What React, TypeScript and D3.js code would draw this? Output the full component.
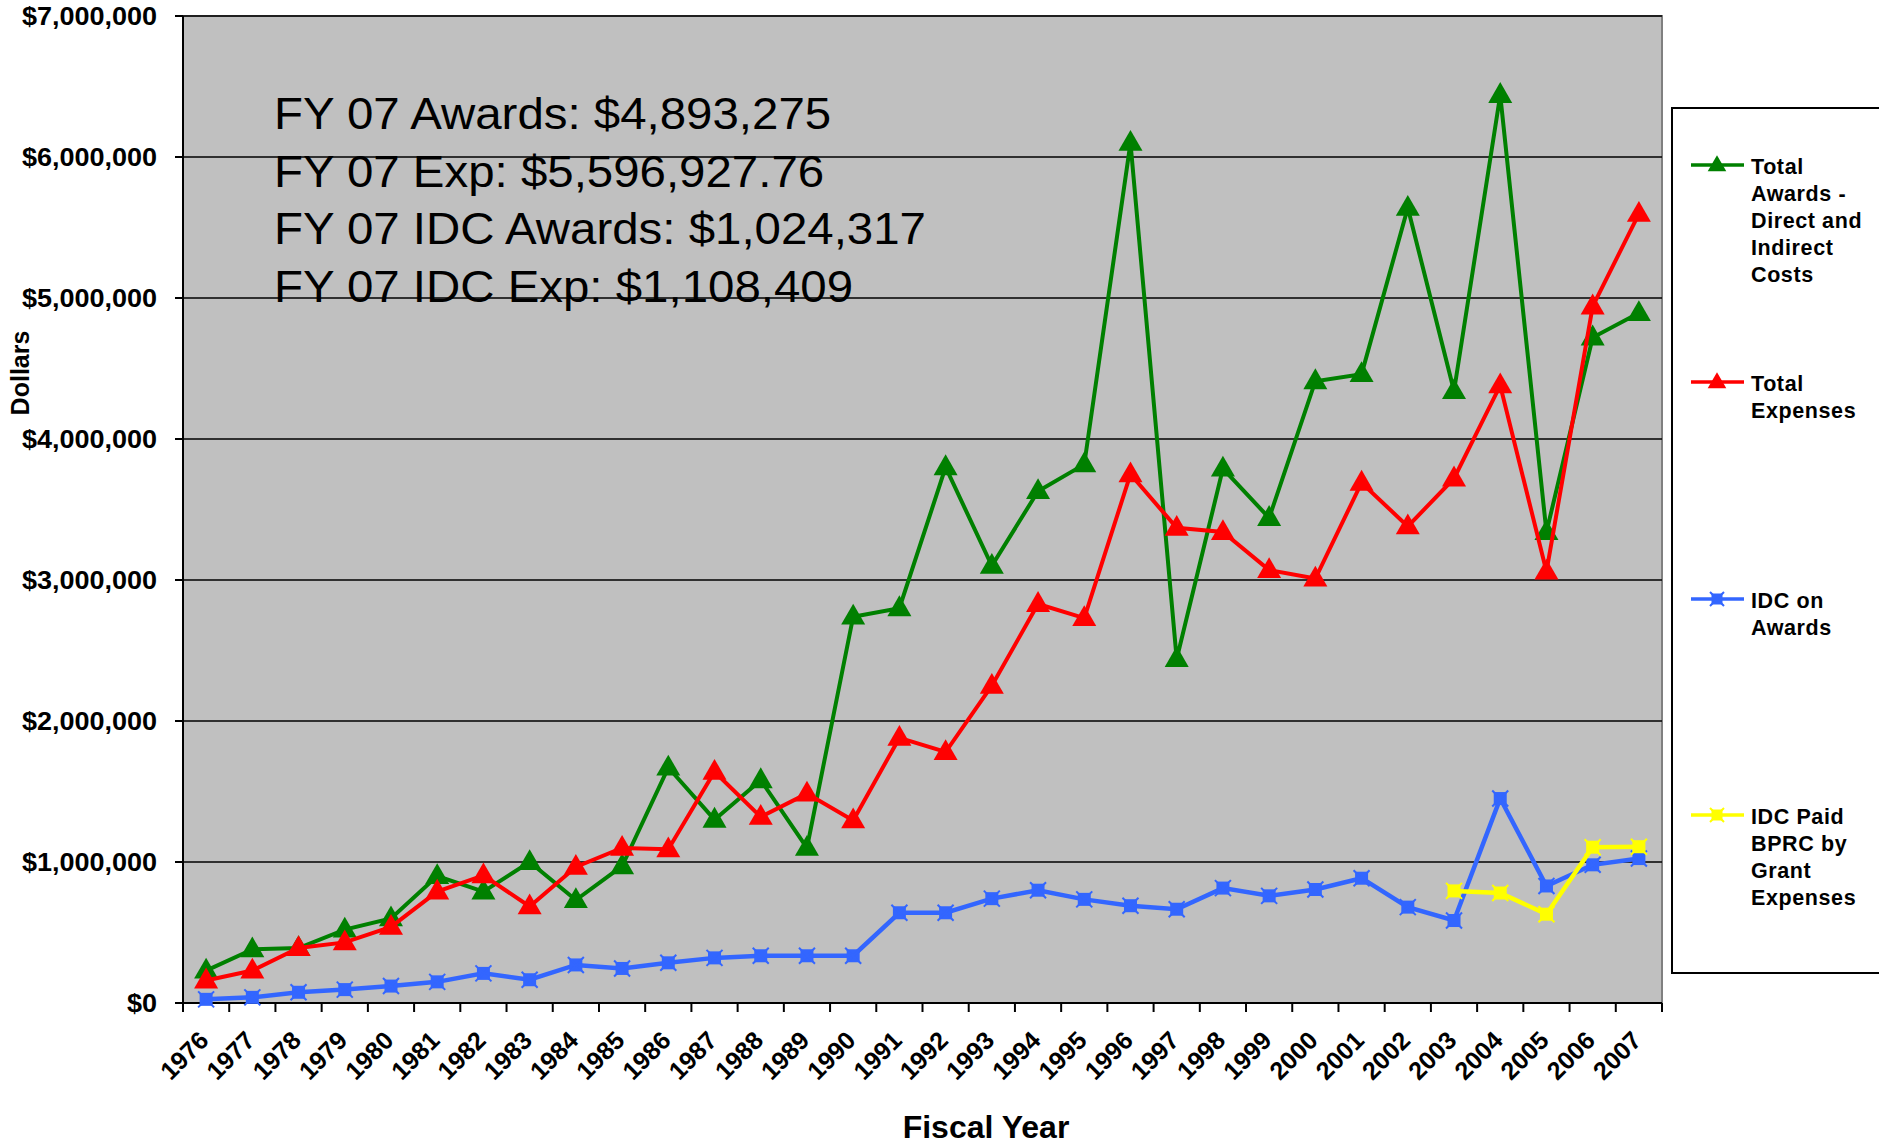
import React from "react";
import * as d3 from "d3";

const years = ["1976","1977","1978","1979","1980","1981","1982","1983","1984","1985","1986","1987","1988","1989","1990","1991","1992","1993","1994","1995","1996","1997","1998","1999","2000","2001","2002","2003","2004","2005","2006","2007"];

const totalAwards = [230000,380000,390000,520000,600000,900000,790000,1000000,730000,970000,1670000,1300000,1580000,1100000,2740000,2800000,3800000,3100000,3630000,3820000,6100000,2440000,3790000,3440000,4410000,4460000,5640000,4340000,6440000,3340000,4720000,4893275];

const totalExpenses = [160000,230000,390000,430000,540000,790000,905000,685000,965000,1100000,1090000,1640000,1320000,1485000,1295000,1880000,1780000,2250000,2830000,2730000,3750000,3370000,3340000,3070000,3010000,3690000,3380000,3720000,4380000,3060000,4940000,5596928];

const idcAwards = [26000,40000,76000,95000,120000,150000,210000,165000,270000,245000,285000,320000,335000,335000,335000,640000,640000,740000,800000,735000,690000,665000,815000,760000,805000,885000,680000,585000,1450000,830000,980000,1024317];

const idcPaidYears = ["2003","2004","2005","2006","2007"];
const idcPaidValues = [795000,780000,630000,1105000,1108409];

const yTicks = [0,1000000,2000000,3000000,4000000,5000000,6000000,7000000];

const annotationLines = [
  "FY 07 Awards: $4,893,275",
  "FY 07 Exp: $5,596,927.76",
  "FY 07 IDC Awards: $1,024,317",
  "FY 07 IDC Exp: $1,108,409",
];

const legendItems = [
  { lines: ["Total", "Awards -", "Direct and", "Indirect", "Costs"], color: "#008000", marker: "tri" },
  { lines: ["Total", "Expenses"], color: "#FF0000", marker: "tri" },
  { lines: ["IDC on", "Awards"], color: "#3366FF", marker: "sq" },
  { lines: ["IDC Paid", "BPRC by", "Grant", "Expenses"], color: "#FFFF00", marker: "sq" },
];

const W = 1879, H = 1146;
const L = 183, R = 1662, T = 16, B = 1003;
const FONT = "'Liberation Sans', Arial, sans-serif";

function Marker({ kind, x, y, color, small }: { kind: string; x: number; y: number; color: string; small?: boolean }) {
  if (kind === "tri") {
    const p = d3.symbol().type(d3.symbolTriangle).size(small ? 150 : 250)();
    return <path d={p || ""} transform={`translate(${x},${y + 1})`} fill={color} />;
  }
  const s = small ? 5.5 : 6.5;
  return (
    <g transform={`translate(${x},${y})`}>
      <rect x={-s} y={-s} width={2 * s} height={2 * s} fill={color} />
      <path d={`M${-s - 1.5},${-s - 1.5}L${s + 1.5},${s + 1.5}M${-s - 1.5},${s + 1.5}L${s + 1.5},${-s - 1.5}`} stroke={color} strokeWidth={2} />
    </g>
  );
}

export default function App() {
  const x = d3.scaleBand<string>().domain(years).range([L, R]).padding(0);
  const y = d3.scaleLinear().domain([0, 7000000]).range([B, T]);
  const cx = (yr: string) => (x(yr) as number) + x.bandwidth() / 2;

  const line = d3.line<[string, number]>().x((d) => cx(d[0])).y((d) => y(d[1]));

  const series = [
    { data: years.map((yr, i) => [yr, totalAwards[i]] as [string, number]), color: "#008000", marker: "tri", w: 4 },
    { data: years.map((yr, i) => [yr, totalExpenses[i]] as [string, number]), color: "#FF0000", marker: "tri", w: 4 },
    { data: years.map((yr, i) => [yr, idcAwards[i]] as [string, number]), color: "#3366FF", marker: "sq", w: 4.5 },
    { data: idcPaidYears.map((yr, i) => [yr, idcPaidValues[i]] as [string, number]), color: "#FFFF00", marker: "sq", w: 4.5 },
  ];

  const legendY = [165, 382, 599, 815];

  return (
    <svg width={W} height={H} style={{ position: "absolute", left: 0, top: 0, background: "#fff" }} fontFamily={FONT}>
      <rect x={0} y={0} width={W} height={H} fill="#fff" />
      {/* plot area */}
      <rect x={L} y={T} width={R - L} height={B - T} fill="#C0C0C0" stroke="#808080" strokeWidth={2} />
      {/* gridlines */}
      {yTicks.map((t) => (
        <line key={t} x1={L} x2={R} y1={y(t)} y2={y(t)} stroke="#000" strokeWidth={1.6} />
      ))}
      {/* y axis */}
      <line x1={L} x2={L} y1={T} y2={B} stroke="#000" strokeWidth={2} />
      {yTicks.map((t) => (
        <g key={"yt" + t}>
          <line x1={L - 8} x2={L} y1={y(t)} y2={y(t)} stroke="#000" strokeWidth={2} />
          <text transform={`translate(${157},${y(t)}) scale(1.08,1)`} textAnchor="end" dy="0.36em" fontSize={25} fontWeight="bold">
            {d3.format("$,")(t)}
          </text>
        </g>
      ))}
      {/* x axis */}
      <line x1={L} x2={R} y1={B} y2={B} stroke="#000" strokeWidth={2} />
      {years.map((yr, i) => (
        <line key={"xt" + yr} x1={L + i * x.step()} x2={L + i * x.step()} y1={B} y2={B + 9} stroke="#000" strokeWidth={2} />
      ))}
      <line x1={R} x2={R} y1={B} y2={B + 9} stroke="#000" strokeWidth={2} />
      {years.map((yr) => (
        <text key={"xl" + yr} transform={`translate(${cx(yr) + 4},${B + 39}) rotate(-45)`} textAnchor="end" fontSize={25} fontWeight="bold">
          {yr}
        </text>
      ))}
      {/* annotation */}
      {annotationLines.map((s, i) => (
        <text key={"an" + i} transform={`translate(274,${129 + i * 57.7}) scale(1.078,1)`} fontSize={44} fill="#000">
          {s}
        </text>
      ))}
      {/* series */}
      {series.map((s, si) => (
        <g key={"s" + si}>
          <path d={line(s.data) || ""} fill="none" stroke={s.color} strokeWidth={s.w} strokeLinejoin="miter" />
          {s.data.map((d, i) => (
            <Marker key={i} kind={s.marker} x={cx(d[0])} y={y(d[1])} color={s.color} />
          ))}
        </g>
      ))}
      {/* axis titles */}
      <text transform={`translate(29,373) rotate(-90)`} textAnchor="middle" fontSize={25} fontWeight="bold">Dollars</text>
      <text transform={`translate(986,1138) scale(1.0,1)`} textAnchor="middle" fontSize={32} fontWeight="bold">Fiscal Year</text>
      {/* legend */}
      <rect x={1672} y={108} width={230} height={865} fill="#fff" stroke="#000" strokeWidth={2} />
      {legendItems.map((it, i) => (
        <g key={"lg" + i}>
          <line x1={1691} x2={1744} y1={legendY[i]} y2={legendY[i]} stroke={it.color} strokeWidth={3.5} />
          <Marker kind={it.marker} x={1717} y={legendY[i]} color={it.color} small />
          {it.lines.map((ln, j) => (
            <text key={j} x={1751} y={legendY[i] + 9 + j * 27} fontSize={21.5} fontWeight="bold" letterSpacing={0.6}>
              {ln}
            </text>
          ))}
        </g>
      ))}
    </svg>
  );
}
